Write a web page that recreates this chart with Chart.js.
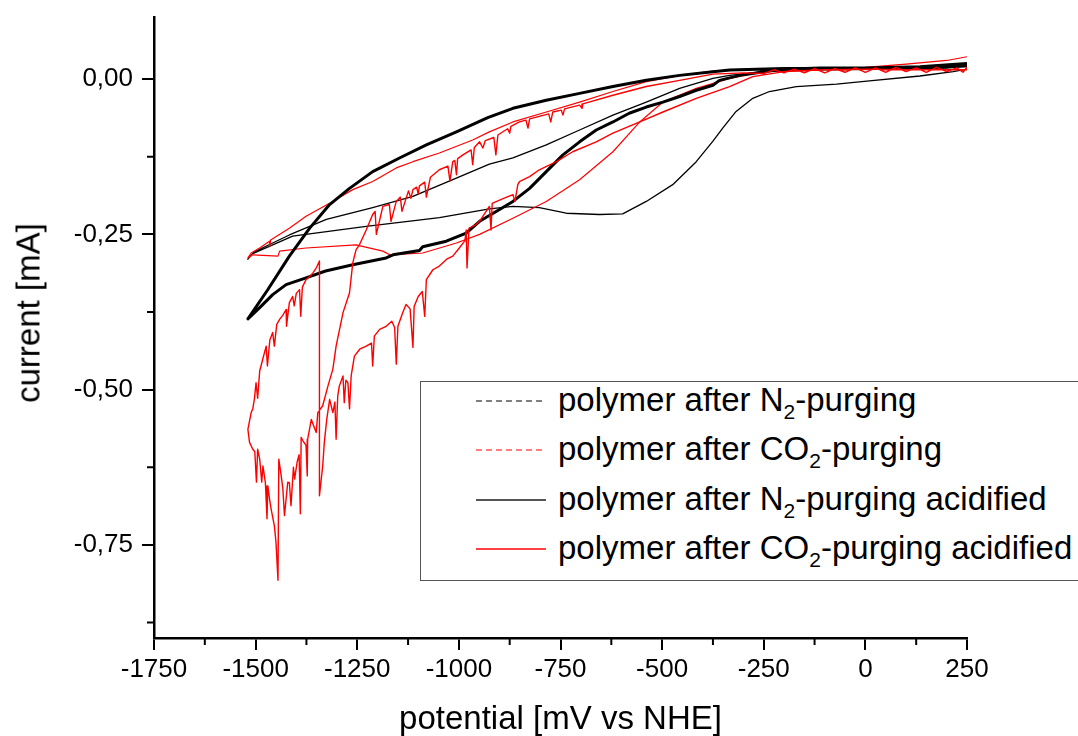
<!DOCTYPE html>
<html>
<head>
<meta charset="utf-8">
<script src="https://cdn.jsdelivr.net/npm/chart.js@4"></script>
<style>
  body { margin: 0; background: #fff; font-family: "Liberation Sans", Arial, sans-serif; }
  #wrap { position: relative; width: 1078px; height: 736px; }
  #legend { position: absolute; left: 420px; top: 381px; width: 680px; height: 198px; border: 1.5px solid #555; background: #fff; }
  .row { position: absolute; left: 558px; font-size: 33px; line-height: 33px; color: #000; white-space: nowrap; }
  .row sub { font-size: 21px; vertical-align: -8px; line-height: 0; }
  .sample { position: absolute; left: 476px; }
  #ytitle { position: absolute; left: 28px; top: 313px; transform: translate(-50%, -50%) rotate(-90deg); font-size: 33px; line-height: 33px; white-space: nowrap; }
</style>
</head>
<body>
<div id="wrap">
  <canvas id="cvChart" width="1078" height="736"></canvas>
  <div id="ytitle">current [mA]</div>
  <div id="legend"></div>
  <div id="legendRows"></div>
</div>
<script>
// axis ticks
const xTicks = [-1750, -1500, -1250, -1000, -750, -500, -250, 0, 250];
const xMinorTicks = [-1625, -1375, -1125, -875, -625, -375, -125, 125];
const yTicks = [-0.75, -0.5, -0.25, 0];
const yMinorTicks = [-0.875, -0.625, -0.375, -0.125];

// series labels (html for subscripts)
const seriesLabels = [
    'polymer after N<sub>2</sub>-purging',
    'polymer after CO<sub>2</sub>-purging',
    'polymer after N<sub>2</sub>-purging acidified',
    'polymer after CO<sub>2</sub>-purging acidified'
];

// [potential mV, current mA] in scan order
const n2Curve = [
    [250, 0.016], [216, 0.012], [134, 0.005], [10, -0.003], [-71, -0.008], [-170, -0.012],
    [-236, -0.020], [-277, -0.031], [-318, -0.052], [-350, -0.078], [-375, -0.100], [-416, -0.133],
    [-474, -0.170], [-539, -0.197], [-597, -0.217], [-654, -0.218], [-736, -0.216], [-802, -0.207],
    [-867, -0.205], [-925, -0.209], [-1048, -0.223], [-1228, -0.237], [-1409, -0.253], [-1507, -0.281],
    [-1519, -0.290],
    [-1503, -0.278], [-1417, -0.251], [-1326, -0.226], [-1212, -0.207], [-1113, -0.189], [-1015, -0.162],
    [-925, -0.137], [-867, -0.127], [-785, -0.106], [-703, -0.082], [-621, -0.058], [-539, -0.037],
    [-457, -0.015], [-375, 0.001], [-334, 0.006], [-250, 0.012], [-100, 0.015], [100, 0.016], [250, 0.020]
];

const co2Curve = [
    [250, 0.036], [200, 0.030], [100, 0.024], [0, 0.019], [-150, 0.015], [-250, 0.012], [-334, 0.001],
    [-416, -0.015], [-498, -0.037], [-555, -0.069], [-621, -0.117], [-703, -0.162], [-785, -0.197],
    [-867, -0.224], [-949, -0.250], [-1006, -0.264], [-1089, -0.280], [-1170, -0.283], [-1187, -0.277],
    [-1253, -0.267], [-1376, -0.272], [-1441, -0.277], [-1445, -0.285], [-1507, -0.283], [-1519, -0.288],
    [-1511, -0.280], [-1490, -0.272], [-1466, -0.261], [-1465, -0.270], [-1463, -0.259], [-1417, -0.240],
    [-1376, -0.221], [-1318, -0.200], [-1261, -0.178], [-1212, -0.165], [-1154, -0.143], [-1113, -0.133],
    [-1048, -0.119], [-966, -0.098], [-925, -0.085], [-867, -0.069], [-785, -0.053], [-703, -0.037],
    [-621, -0.020], [-539, -0.004], [-457, 0.006], [-375, 0.013], [-250, 0.016], [0, 0.017], [250, 0.022]
];

const n2AcidCurve = [
    [250, 0.022], [200, 0.019], [134, 0.018], [0, 0.018], [-112, 0.018], [-200, 0.016], [-236, 0.013],
    [-309, 0.006], [-359, -0.002], [-375, -0.010], [-416, -0.018], [-457, -0.028], [-498, -0.037],
    [-539, -0.045], [-581, -0.055], [-621, -0.069], [-662, -0.082], [-703, -0.101], [-744, -0.122],
    [-785, -0.149], [-826, -0.176], [-867, -0.197], [-900, -0.210], [-949, -0.229], [-982, -0.248],
    [-1031, -0.261], [-1089, -0.270], [-1097, -0.276], [-1162, -0.283], [-1179, -0.288], [-1261, -0.299],
    [-1328, -0.309], [-1376, -0.320], [-1425, -0.331], [-1458, -0.347], [-1490, -0.368], [-1519, -0.386],
    [-1471, -0.340], [-1417, -0.285], [-1367, -0.240], [-1318, -0.202], [-1269, -0.176], [-1212, -0.149],
    [-1146, -0.127], [-1080, -0.106], [-1006, -0.085], [-929, -0.062], [-867, -0.047], [-785, -0.034],
    [-703, -0.023], [-621, -0.012], [-539, -0.002], [-457, 0.006], [-375, 0.012], [-334, 0.0145],
    [-200, 0.017], [0, 0.018], [134, 0.020], [250, 0.025]
];

const co2AcidCurve = [
    // top band, going negative
    [250, 0.019], [240, 0.011], [225, 0.018], [200, 0.012], [175, 0.019], [150, 0.011], [125, 0.018],
    [100, 0.012], [75, 0.019], [50, 0.011], [25, 0.018], [0, 0.011], [-25, 0.018], [-50, 0.011],
    [-75, 0.017], [-100, 0.010], [-125, 0.017], [-150, 0.010], [-175, 0.016], [-200, 0.010],
    [-225, 0.015], [-250, 0.009], [-300, 0.010], [-375, 0.008],
    [-457, -0.002], [-539, -0.012], [-621, -0.026], [-695, -0.040], [-697, -0.047], [-703, -0.042],
    [-740, -0.048], [-744, -0.058], [-748, -0.050], [-769, -0.053], [-774, -0.069],
    [-779, -0.056], [-826, -0.064], [-830, -0.079], [-835, -0.066], [-851, -0.069], [-872, -0.076],
    [-875, -0.087], [-880, -0.080], [-904, -0.090], [-909, -0.122], [-914, -0.094], [-935, -0.099],
    [-941, -0.111], [-949, -0.101], [-962, -0.110], [-966, -0.138], [-970, -0.114], [-990, -0.122],
    [-1003, -0.128], [-1006, -0.154], [-1010, -0.131], [-1015, -0.133], [-1022, -0.164], [-1027, -0.140],
    [-1048, -0.146], [-1070, -0.158], [-1080, -0.190], [-1084, -0.166], [-1097, -0.172], [-1100, -0.185],
    [-1104, -0.174], [-1113, -0.178], [-1118, -0.192], [-1124, -0.180], [-1140, -0.213], [-1144, -0.190],
    [-1154, -0.197], [-1167, -0.229], [-1171, -0.202], [-1187, -0.205], [-1203, -0.250], [-1206, -0.213],
    [-1212, -0.218],
    // steep drop
    [-1228, -0.243], [-1244, -0.266], [-1253, -0.275], [-1261, -0.296], [-1269, -0.344], [-1285, -0.376],
    [-1302, -0.430], [-1310, -0.467], [-1322, -0.494], [-1335, -0.526],
    // lower left, towards vertex
    [-1347, -0.537], [-1351, -0.569], [-1363, -0.548], [-1372, -0.580], [-1373, -0.639], [-1376, -0.590],
    [-1384, -0.582], [-1388, -0.577], [-1390, -0.700], [-1393, -0.605], [-1398, -0.617], [-1404, -0.644],
    [-1407, -0.625], [-1413, -0.687], [-1417, -0.650], [-1421, -0.649], [-1429, -0.703], [-1433, -0.660],
    [-1437, -0.639], [-1443, -0.612], [-1445, -0.807], [-1450, -0.745], [-1454, -0.719], [-1462, -0.692],
    [-1466, -0.675], [-1470, -0.655], [-1472, -0.708], [-1476, -0.650], [-1482, -0.623], [-1485, -0.649],
    [-1490, -0.612], [-1495, -0.596], [-1498, -0.649], [-1502, -0.600], [-1507, -0.596], [-1515, -0.585],
    [-1519, -0.564],
    // return, upper left
    [-1511, -0.537], [-1507, -0.531], [-1503, -0.515], [-1499, -0.489], [-1495, -0.514], [-1490, -0.470],
    [-1482, -0.450], [-1474, -0.430], [-1471, -0.462], [-1465, -0.420], [-1458, -0.408], [-1454, -0.430],
    [-1448, -0.395], [-1441, -0.387], [-1433, -0.380], [-1425, -0.371], [-1424, -0.398], [-1417, -0.360],
    [-1409, -0.350], [-1405, -0.365], [-1400, -0.345], [-1392, -0.339], [-1389, -0.382], [-1385, -0.335],
    [-1376, -0.323], [-1367, -0.318], [-1359, -0.312], [-1350, -0.303], [-1343, -0.293],
    // jump
    [-1343, -0.671],
    // lower right, back to positive
    [-1335, -0.623], [-1331, -0.585], [-1325, -0.548], [-1318, -0.516], [-1310, -0.537], [-1305, -0.520],
    [-1302, -0.580], [-1298, -0.510], [-1294, -0.494], [-1285, -0.478], [-1282, -0.521], [-1278, -0.485],
    [-1273, -0.489], [-1269, -0.531], [-1265, -0.478], [-1257, -0.446], [-1244, -0.435], [-1228, -0.430],
    [-1215, -0.425], [-1212, -0.462], [-1208, -0.414], [-1195, -0.403], [-1179, -0.398], [-1165, -0.390],
    [-1158, -0.400], [-1154, -0.459], [-1150, -0.398], [-1138, -0.376], [-1130, -0.363], [-1120, -0.370],
    [-1113, -0.432], [-1110, -0.366], [-1100, -0.350], [-1090, -0.342], [-1084, -0.382], [-1080, -0.323],
    [-1064, -0.307], [-1048, -0.301], [-1030, -0.290], [-1015, -0.285], [-999, -0.272], [-985, -0.260],
    [-982, -0.243], [-980, -0.304], [-975, -0.240], [-960, -0.235], [-949, -0.229], [-935, -0.215],
    [-925, -0.205], [-921, -0.243], [-918, -0.200], [-890, -0.192], [-867, -0.186], [-862, -0.197],
    [-855, -0.170], [-851, -0.165], [-826, -0.157], [-802, -0.146], [-760, -0.133], [-720, -0.117],
    [-662, -0.101], [-621, -0.087], [-555, -0.069], [-498, -0.053], [-416, -0.031], [-334, -0.012],
    [-277, 0.004], [-200, 0.012], [-100, 0.015], [0, 0.016], [100, 0.015], [250, 0.015]
];

const toPoints = arr => arr.map(p => ({x: p[0], y: p[1]}));
const FONT = '"Liberation Sans", Arial, sans-serif';

// minor tick marks, drawn through the scales
const minorTicks = {
    id: 'minorTicks',
    afterDraw(chart) {
        const c = chart.ctx, xs = chart.scales.x, ys = chart.scales.y;
        const area = chart.chartArea;
        c.save();
        c.strokeStyle = '#000';
        c.lineWidth = 2;
        c.beginPath();
        xMinorTicks.forEach(v => {
            const px = xs.getPixelForValue(v);
            c.moveTo(px, area.bottom);
            c.lineTo(px, area.bottom + 7);
        });
        yMinorTicks.forEach(v => {
            const py = ys.getPixelForValue(v);
            c.moveTo(area.left, py);
            c.lineTo(area.left - 7, py);
        });
        c.stroke();
        c.restore();
    }
};

new Chart(document.getElementById('cvChart'), {
    type: 'scatter',
    data: {
        datasets: [
            {
                data: toPoints(co2AcidCurve),
                borderColor: '#ff0000',
                borderWidth: 1.4,
                borderJoinStyle: 'round',
                showLine: true,
                pointRadius: 0
            },
            {
                data: toPoints(n2AcidCurve),
                borderColor: '#000000',
                borderWidth: 3,
                borderJoinStyle: 'round',
                showLine: true,
                pointRadius: 0
            },
            {
                data: toPoints(co2Curve),
                borderColor: '#ff0000',
                borderWidth: 1.2,
                borderJoinStyle: 'round',
                showLine: true,
                pointRadius: 0
            },
            {
                data: toPoints(n2Curve),
                borderColor: '#000000',
                borderWidth: 1.3,
                borderJoinStyle: 'round',
                showLine: true,
                pointRadius: 0
            }
        ]
    },
    options: {
        responsive: false,
        animation: false,
        devicePixelRatio: 1,
        layout: {
            padding: {top: 17, right: 111, bottom: 0, left: 0}
        },
        plugins: {
            legend: {display: false},
            tooltip: {enabled: false}
        },
        scales: {
            x: {
                type: 'linear',
                min: -1750,
                max: 250,
                afterFit: s => { s.height = 98; s.paddingLeft = 0; s.paddingRight = 0; },
                afterBuildTicks: s => { s.ticks = xTicks.map(v => ({value: v})); },
                border: {display: true, color: '#000', width: 2.5},
                grid: {
                    drawOnChartArea: false,
                    drawTicks: true,
                    tickLength: 12,
                    color: '#000',
                    lineWidth: 2
                },
                ticks: {
                    color: '#000',
                    padding: 4,
                    maxRotation: 0,
                    font: {family: FONT, size: 26},
                    callback: v => String(v)
                },
                title: {
                    display: true,
                    text: 'potential [mV vs NHE]',
                    color: '#000',
                    padding: {top: 0, bottom: 0},
                    font: {family: FONT, size: 33, lineHeight: 1}
                }
            },
            y: {
                type: 'linear',
                min: -0.9,
                max: 0.1,
                afterFit: s => { s.width = 154; s.paddingTop = 0; s.paddingBottom = 0; },
                afterBuildTicks: s => { s.ticks = yTicks.map(v => ({value: v})); },
                border: {display: true, color: '#000', width: 2.5},
                grid: {
                    drawOnChartArea: false,
                    drawTicks: true,
                    tickLength: 12,
                    color: '#000',
                    lineWidth: 2
                },
                ticks: {
                    color: '#000',
                    padding: 9,
                    font: {family: FONT, size: 26},
                    callback: v => v.toFixed(2).replace('.', ',')
                }
            }
        }
    },
    plugins: [minorTicks]
});

// legend overlay
const sampleStyles = [
    {color: '#000', width: 1.2, dash: '6 4'},
    {color: '#ff0000', width: 1.2, dash: '6 4'},
    {color: '#555', width: 2.2, dash: ''},
    {color: '#ff0000', width: 1.5, dash: ''}
];
const rowsEl = document.getElementById('legendRows');
seriesLabels.forEach((label, i) => {
    const cy = 401 + i * 49.3;
    const st = sampleStyles[i];
    const svg = document.createElementNS('http://www.w3.org/2000/svg', 'svg');
    svg.setAttribute('class', 'sample');
    svg.setAttribute('width', '72');
    svg.setAttribute('height', '8');
    svg.style.top = (cy - 4) + 'px';
    const ln = document.createElementNS('http://www.w3.org/2000/svg', 'line');
    ln.setAttribute('x1', '0'); ln.setAttribute('y1', '4');
    ln.setAttribute('x2', '70'); ln.setAttribute('y2', '4');
    ln.setAttribute('stroke', st.color);
    ln.setAttribute('stroke-width', st.width);
    if (st.dash) ln.setAttribute('stroke-dasharray', st.dash);
    svg.appendChild(ln);
    rowsEl.appendChild(svg);
    const row = document.createElement('div');
    row.className = 'row';
    row.style.top = (cy - 18) + 'px';
    row.innerHTML = label;
    rowsEl.appendChild(row);
});
</script>
</body>
</html>
